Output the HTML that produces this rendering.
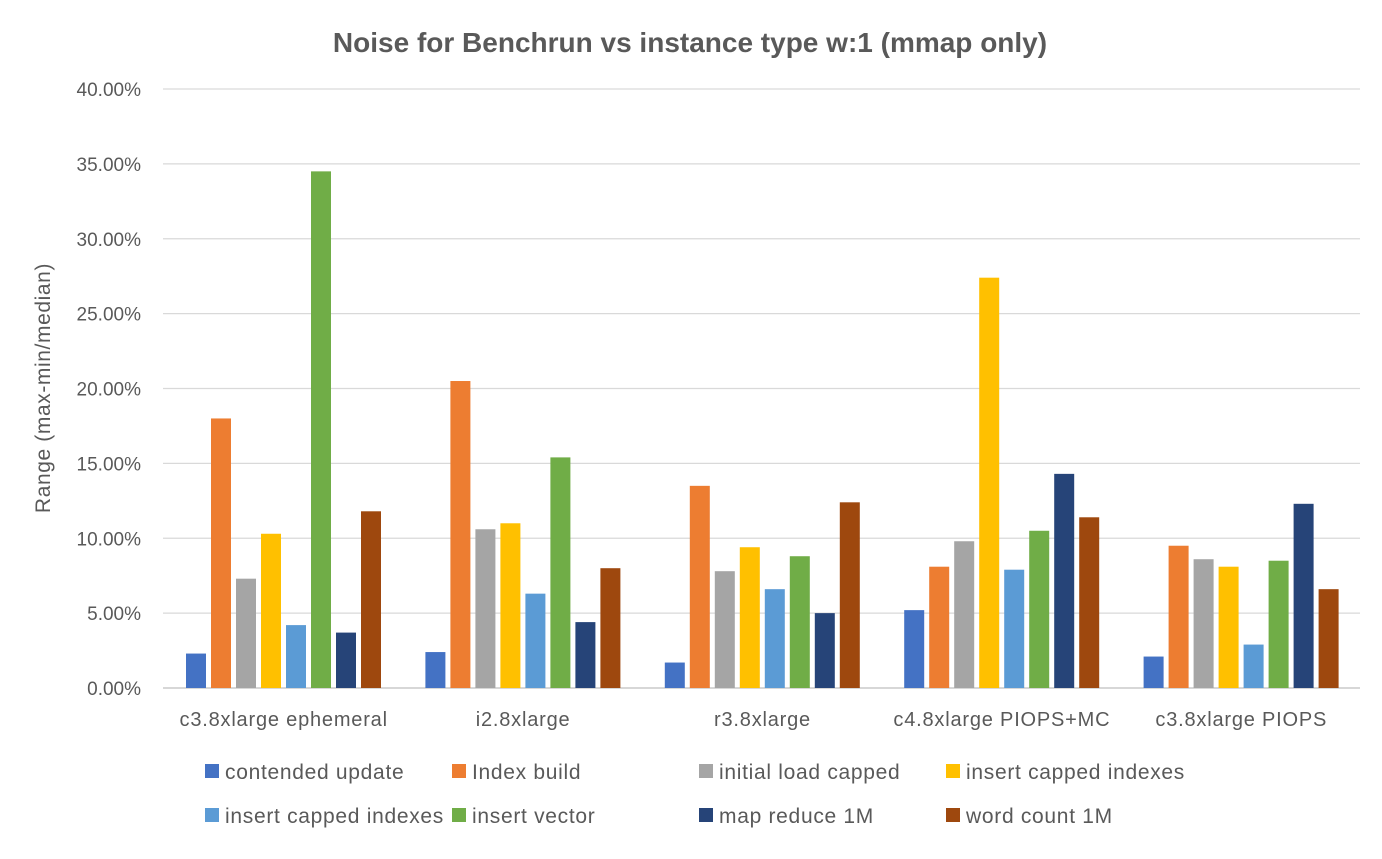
<!DOCTYPE html>
<html><head><meta charset="utf-8"><style>
body{margin:0;background:#fff;}
svg text{font-family:"Liberation Sans",sans-serif;fill:#595959;}
</style></head><body>
<svg id="chart" width="1382" height="854">
<text x="690" y="52" text-anchor="middle" font-size="28" font-weight="bold">Noise for Benchrun vs instance type w:1 (mmap only)</text>
<text transform="translate(50,388) rotate(-90)" text-anchor="middle" font-size="21" letter-spacing="0.6">Range (max-min/median)</text>
<g id="grid"></g><g id="bars"></g><g id="legend"></g>
</svg>
<script>
const categories=["c3.8xlarge ephemeral","i2.8xlarge","r3.8xlarge","c4.8xlarge PIOPS+MC","c3.8xlarge PIOPS"];
const seriesNames=["contended update","Index build","initial load capped","insert capped indexes","insert capped indexes","insert vector","map reduce 1M","word count 1M"];
const contended=[2.3,2.4,1.7,5.2,2.1];
const indexBuild=[18.0,20.5,13.5,8.1,9.5];
const initialLoad=[7.3,10.6,7.8,9.8,8.6];
const insertCappedA=[10.3,11.0,9.4,27.4,8.1];
const insertCappedB=[4.2,6.3,6.6,7.9,2.9];
const insertVector=[34.5,15.4,8.8,10.5,8.5];
const mapReduce=[3.7,4.4,5.0,14.3,12.3];
const wordCount=[11.8,8.0,12.4,11.4,6.6];
const yTicks=[0,5,10,15,20,25,30,35,40];
const series=[contended,indexBuild,initialLoad,insertCappedA,insertCappedB,insertVector,mapReduce,wordCount];
const colors=["#4472C4","#ED7D31","#A5A5A5","#FFC000","#5B9BD5","#70AD47","#264478","#9E480E"];
const NS="http://www.w3.org/2000/svg";
const x0=163,x1=1360,yBase=688,yTop=89;
const y=v=>yBase-(v/40)*(yBase-yTop);
const gw=(x1-x0)/categories.length;
function mk(t,a,p){const e=document.createElementNS(NS,t);for(const k in a)e.setAttribute(k,a[k]);p.appendChild(e);return e;}
const grid=document.getElementById('grid');
yTicks.forEach(t=>{
 const l=mk('line',{x1:x0,x2:x1,y1:y(t),y2:y(t),stroke:t===0?'#bfbfbf':'#d9d9d9','stroke-width':1.3},grid);
 
 
 const tx=mk('text',{x:141,y:y(t)+7,'text-anchor':'end','font-size':19},grid);
 tx.textContent=t.toFixed(2)+'%';
 
 
});
const bars=document.getElementById('bars');
categories.forEach((c,i)=>{
 const gx=x0+i*gw;
 series.forEach((s,j)=>{
  const bx=gx+23+j*25;
  const r=mk('rect',{x:bx,y:y(s[i]),width:20,height:yBase-y(s[i]),fill:colors[j]},bars);
  
  
 });
 const tx=mk('text',{x:gx+gw/2+1,y:726,'text-anchor':'middle','font-size':20,'letter-spacing':0.8},bars);
 tx.textContent=c;
 
 
});
const lg=document.getElementById('legend');
seriesNames.forEach((n,j)=>{
 const lx=205+(j%4)*247, ly=(j<4?771:815);
 const r=mk('rect',{x:lx,y:ly-7,width:14,height:14,fill:colors[j]},lg);
 
 
 const t=mk('text',{x:lx+20,y:ly+8,'font-size':21,'letter-spacing':0.7},lg);
 t.textContent=n;
 
 
});
</script>
</body></html>
